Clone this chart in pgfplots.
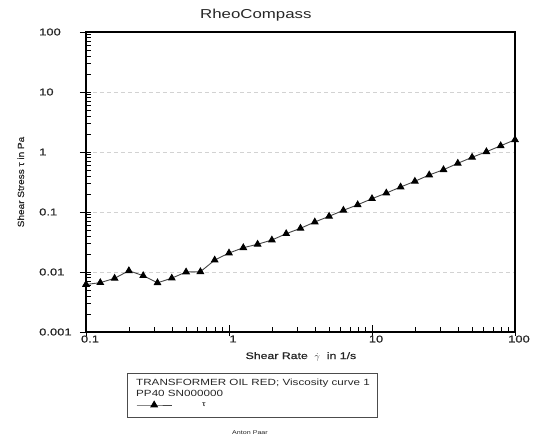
\documentclass[border=0pt]{standalone}
\usepackage{pgfplots}
\pgfplotsset{compat=1.18}
\usepackage{fontspec}
\setmainfont{Liberation Sans}[FakeStretch=1.3]
\newfontfamily\hfont{Liberation Sans}[FakeStretch=1.3, FakeBold=0.8]
\newfontfamily\vfont{Liberation Sans}[FakeStretch=1.12, FakeBold=0.6]

% Viscosity curve: shear rate (1/s) vs shear stress (Pa)
\pgfplotstableread{
rate     stress
0.1      0.0062
0.1259   0.00664
0.1585   0.00785
0.1995   0.0105
0.2512   0.00868
0.3162   0.0066
0.3981   0.0079
0.5012   0.0100
0.6310   0.0101
0.7943   0.0158
1.000    0.0207
1.259    0.0254
1.585    0.0290
1.995    0.0341
2.512    0.0435
3.162    0.0535
3.981    0.0681
5.012    0.0848
6.310    0.1067
7.943    0.132
10.00    0.1667
12.59    0.207
15.85    0.261
19.95    0.325
25.12    0.414
31.62    0.507
39.81    0.648
50.12    0.816
63.10    1.01
79.43    1.27
100.0    1.60
}\viscdata

\begin{document}
\begin{tikzpicture}
\path[use as bounding box] (0,0) rectangle (535bp,439bp);
\begin{axis}[
  at={(86bp,107bp)}, anchor=south west,
  scale only axis, width=429bp, height=300bp,
  xmode=log, ymode=log,
  xmin=0.1, xmax=100, ymin=0.001, ymax=100,
  xtick={0.1,1,10,100}, xticklabels={0.1,1,10,100},
  ytick={0.001,0.01,0.1,1,10,100},
  yticklabels={0.001,0.01,0.1,1,10,100},
  xtick pos=bottom, ytick pos=left,
  tick align=inside,
  major tick length=11bp, minor tick length=5bp,
  major y tick style={xshift=-6bp, line width=0.8bp},
  major x tick style={yshift=-4bp, line width=0.8bp},
  every tick/.style={black, line width=0.7bp},
  axis line style={black, line width=1.1bp},
  ymajorgrids,
  major grid style={densely dashed, dash pattern=on 4bp off 3bp, gray!35, line width=0.8bp},
  tick label style={font=\hfont\fontsize{10}{12}\selectfont, black!85},
  yticklabel style={anchor=west, inner sep=0pt, xshift=-47bp},
  xticklabel style={anchor=north, xshift=4bp},
  title={RheoCompass},
  title style={at={(axis description cs:0.396,1.046)}, anchor=base, yshift=-6pt,
               font=\fontsize{13}{15}\selectfont, black!85},
  xlabel={Shear Rate \ $\dot{\gamma}$ \ in 1/s},
  xlabel style={at={(axis description cs:0.501,-0.09)}, anchor=base,
                font=\hfont\fontsize{9.5}{11}\selectfont, black!85},
  ylabel={Shear Stress τ in Pa},
  ylabel style={at={(axis description cs:-0.152,0.5)}, anchor=center,
                font=\vfont\fontsize{9}{10}\selectfont, black!85},
  legend style={at={(axis description cs:0.1166,-0.2433)}, anchor=west,
                draw=none, fill=none, inner sep=0pt,
                font=\fontsize{7}{8}\selectfont},
  legend cell align=left,
  legend image code/.code={%
    \draw[#1, mark repeat=2, mark phase=2]
      plot coordinates {(0bp,0bp) (17.5bp,0bp) (35bp,0bp)};},
]
\addplot[gray!55!black, line width=0.9bp,
         mark=triangle*, mark size=3.7bp,
         mark options={fill=black, draw=black, solid}]
  table[x=rate, y=stress] {\viscdata};
\addlegendentry{\hspace*{28bp}τ}
\end{axis}

% legend frame with sample description
\draw[black!70, line width=0.7bp] (127bp,22bp) rectangle (377bp,66bp);
\node[anchor=base west, inner sep=0pt, font=\fontsize{9}{10}\selectfont, black!85]
  at (136bp,53bp) {TRANSFORMER OIL RED; Viscosity curve 1};
\node[anchor=base west, inner sep=0pt, font=\fontsize{9}{10}\selectfont, black!85]
  at (136bp,42bp) {PP40 SN000000};
\node[anchor=base, inner sep=0pt, font=\fontsize{5.5}{6}\selectfont, black!85]
  at (250bp,5bp) {Anton Paar};
\end{tikzpicture}
\end{document}
